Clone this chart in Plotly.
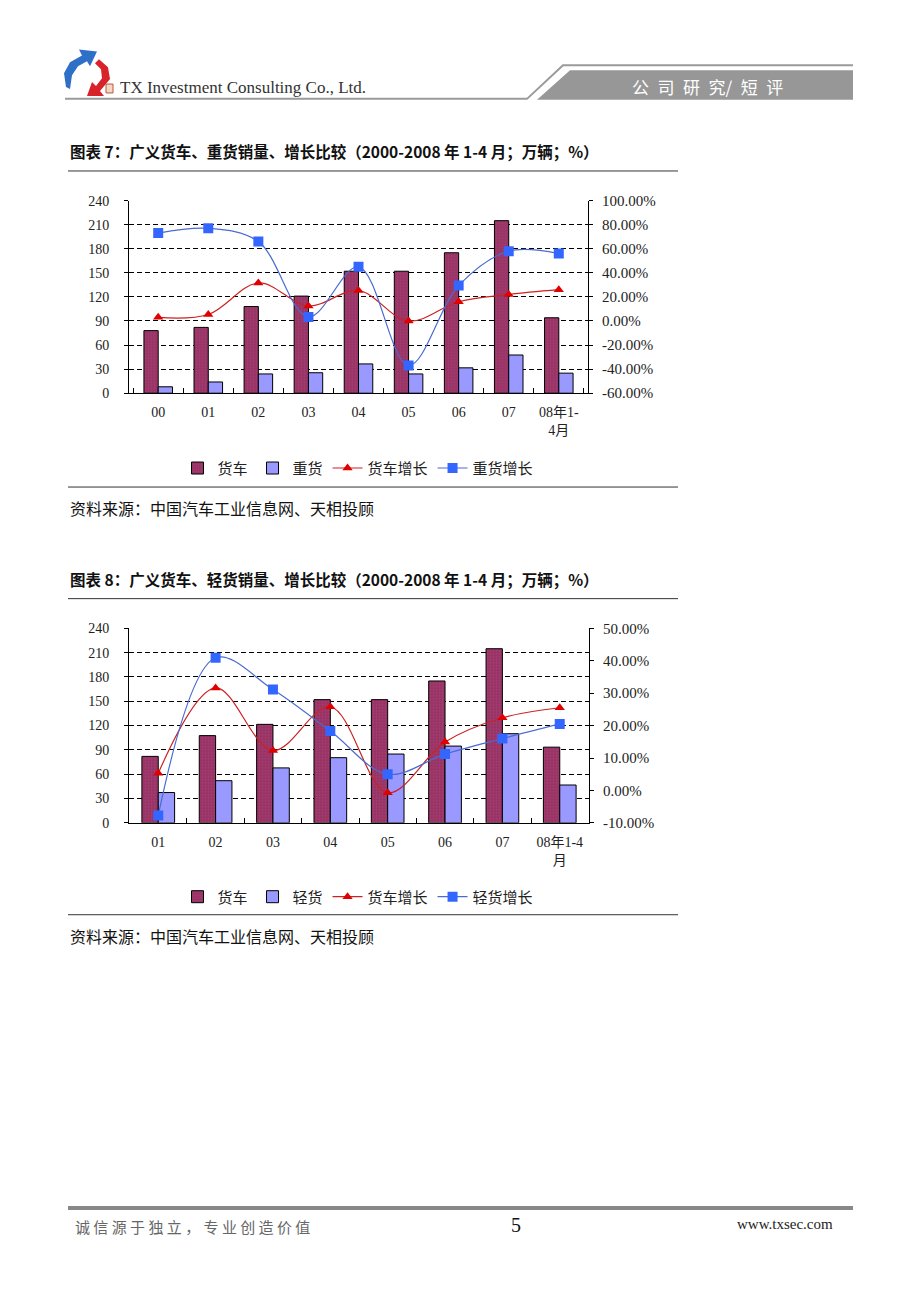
import plotly.graph_objects as go

# ---------------- data ----------------
cats1 = ['00', '01', '02', '03', '04', '05', '06', '07', '08年1-4月']
ticks1 = ['00', '01', '02', '03', '04', '05', '06', '07', '08年1-<br>4月']
truck1 = [78, 82, 108, 121, 152, 152, 175, 215, 94]
heavy1 = [8, 14, 24, 25.5, 36.5, 24, 31.6, 47.6, 25]
truck_growth1 = [3.0, 5.4, 31.6, 12.5, 25.3, -0.1, 16.0, 22.0, 26.0]
heavy_growth1 = [73.0, 77.0, 66.0, 3.4, 45.0, -37.0, 29.4, 58.0, 56.0]

cats2 = ['01', '02', '03', '04', '05', '06', '07', '08年1-4月']
ticks2 = ['01', '02', '03', '04', '05', '06', '07', '08年1-4<br>月']
truck2 = [82, 107.6, 121.5, 152, 152, 175, 214.8, 93.4]
light2 = [37.4, 52, 67.8, 80.4, 84.9, 94.7, 110, 46.7]
truck_growth2 = [5.3, 31.6, 12.3, 25.8, -0.7, 14.9, 22.4, 25.5]
light_growth2 = [-7.7, 40.9, 31.1, 18.3, 5.0, 11.2, 16.0, 20.5]

left_ticks = [0, 30, 60, 90, 120, 150, 180, 210, 240]
right_ticks1 = [-60, -40, -20, 0, 20, 40, 60, 80, 100]
right_ticks2 = [-10, 0, 10, 20, 30, 40, 50]

W, H = 920, 1302
def fx(x): return x / W
def fy(y): return 1 - y / H

SERIF = "Liberation Serif, 'Noto Sans CJK SC', serif"
CJK = "'Noto Sans CJK SC', sans-serif"

MAROON = '#993366'
LAV = '#9999FF'
RED = '#E00000'
BLUE = '#3366FF'

fig = go.Figure()

def add_chart(cats, truck, other, tg, og, other_name, og_name, xa, ya, ya2, leg):
    fig.add_trace(go.Bar(x=cats, y=truck, name='货车', xaxis=xa, yaxis=ya, legend=leg,
                         marker=dict(color=MAROON, line=dict(color='black', width=1),
                                     pattern=dict(shape='.', fgcolor='#B0527E', size=3, solidity=0.25))))
    fig.add_trace(go.Bar(x=cats, y=other, name=other_name, xaxis=xa, yaxis=ya, legend=leg,
                         marker=dict(color=LAV, line=dict(color='black', width=1))))
    fig.add_trace(go.Scatter(x=cats, y=tg, name='货车增长', xaxis=xa, yaxis=ya2, legend=leg,
                             mode='lines+markers',
                             line=dict(color='#CC2222', width=1.2, shape='spline', smoothing=1),
                             marker=dict(symbol='triangle-up', size=9, color=RED)))
    fig.add_trace(go.Scatter(x=cats, y=og, name=og_name, xaxis=xa, yaxis=ya2, legend=leg,
                             mode='lines+markers',
                             line=dict(color='#4A6BD0', width=1.2, shape='spline', smoothing=1),
                             marker=dict(symbol='square', size=10, color=BLUE)))

add_chart(cats1, truck1, heavy1, truck_growth1, heavy_growth1, '重货', '重货增长', 'x', 'y', 'y2', 'legend')
add_chart(cats2, truck2, light2, truck_growth2, light_growth2, '轻货', '轻货增长', 'x2', 'y3', 'y4', 'legend2')

tickfont = dict(family=SERIF, size=14, color='#222')
rtickfont = dict(family=SERIF, size=15, color='#222')

def xaxis_cfg(domain, anchor, cats, ticks):
    return dict(domain=domain, anchor=anchor, type='category', tickvals=cats, ticktext=ticks,
                showline=True, linecolor='black', linewidth=1, ticks='inside', ticklen=5,
                tickcolor='black', tickson='boundaries', showgrid=False, tickfont=tickfont,
                ticklabelstandoff=6, fixedrange=True)

def yleft_cfg(domain, anchor):
    return dict(domain=domain, anchor=anchor, range=[0, 240], tickvals=left_ticks,
                showline=True, linecolor='black', linewidth=1, ticks='outside', ticklen=4,
                tickcolor='black', showgrid=True, gridcolor='black', gridwidth=1,
                griddash='5px,3px', zeroline=False, tickfont=tickfont, ticklabelstandoff=12)

def yright_cfg(overlay, anchor, rng, tv):
    return dict(overlaying=overlay, anchor=anchor, side='right', range=rng, tickvals=tv,
                ticktext=[f'{v:.2f}%' for v in tv], showline=True, linecolor='black',
                linewidth=1, ticks='outside', ticklen=4, tickcolor='black', showgrid=False,
                zeroline=False, tickfont=rtickfont, ticklabelstandoff=6)

legend_common = dict(orientation='h', xanchor='center', yanchor='middle',
                     font=dict(family=SERIF, size=15, color='#222'),
                     bgcolor='rgba(0,0,0,0)', itemwidth=30, tracegroupgap=0)

fig.update_layout(
    width=W, height=H, margin=dict(l=0, r=0, t=0, b=0),
    paper_bgcolor='white', plot_bgcolor='white',
    barmode='group', bargap=0.43, bargroupgap=0,
    xaxis=xaxis_cfg([fx(129), fx(588)], 'y', cats1, ticks1),
    yaxis=yleft_cfg([fy(390), fy(195)], 'x'),
    yaxis2=yright_cfg('y', 'x', [-60, 100], right_ticks1),
    xaxis2=xaxis_cfg([fx(129), fx(589)], 'y3', cats2, ticks2),
    yaxis3=yleft_cfg([fy(825), fy(628)], 'x2'),
    yaxis4=yright_cfg('y3', 'x2', [-10, 50], right_ticks2),
    legend=dict(x=fx(358), y=fy(466), **legend_common),
    legend2=dict(x=fx(358), y=fy(900), **legend_common),
    showlegend=True,
)

# ---------------- page decorations ----------------
shapes = []
ann = []

def path(points, close=True):
    s = 'M ' + ' L '.join(f'{fx(x):.5f},{fy(y):.5f}' for x, y in points)
    return s + (' Z' if close else '')

def hline(x0, x1, y, color, width):
    shapes.append(dict(type='line', xref='paper', yref='paper', x0=fx(x0), x1=fx(x1),
                       y0=fy(y), y1=fy(y), line=dict(color=color, width=width)))

def text(x, y, s, size, color='#111', family=CJK, xanchor='left', bold=False):
    if bold:
        s = f'<b>{s}</b>'
    ann.append(dict(xref='paper', yref='paper', x=fx(x), y=fy(y), text=s, showarrow=False,
                    xanchor=xanchor, yanchor='middle', font=dict(size=size, color=color, family=family)))

# header: logo
blue_logo = [(66, 80), (64, 66), (70, 55), (82, 48), (79, 42), (97, 44), (90, 59), (87, 54),
             (78, 59), (72, 68), (70, 82)]
red_logo = [(99, 52), (108, 60), (110, 72), (100, 84), (104, 89), (87, 89), (92, 75),
            (96, 79), (102, 71), (101, 62), (95, 56)]
shapes.append(dict(type='path', xref='paper', yref='paper', path=path(blue_logo),
                   fillcolor='#2E6FC8', line=dict(width=0)))
shapes.append(dict(type='path', xref='paper', yref='paper', path=path(red_logo),
                   fillcolor='#D8232A', line=dict(width=0)))
shapes.append(dict(type='rect', xref='paper', yref='paper', x0=fx(106), x1=fx(113),
                   y0=fy(86), y1=fy(77), line=dict(color='#B55A3A', width=1), fillcolor='#F3D8C8'))
text(118, 80, 'TX Investment Consulting Co., Ltd.', 17, '#333', SERIF)

# header line and band
shapes.append(dict(type='path', xref='paper', yref='paper',
                   path=path([(65, 92), (527, 92), (563, 58), (853, 58)], close=False),
                   line=dict(color='#9a9a9a', width=2)))
shapes.append(dict(type='path', xref='paper', yref='paper',
                   path=path([(537, 93), (570, 63), (853, 63), (853, 93)]),
                   fillcolor='#979797', line=dict(width=0)))
sp = '\u2002'
text(630, 79, sp.join(['公', '司', '研', '究/']) + sp + sp.join(['短', '评']), 17, 'white', CJK)

# chart 1 frame text
text(68, 145, '图表 7：广义货车、重货销量、增长比较（2000-2008 年 1-4 月；万辆；%）', 15.5, '#111', CJK, bold=True)
hline(68, 678, 165, '#333', 1)
hline(68, 678, 485, '#333', 1)
text(68, 506, '资料来源：中国汽车工业信息网、天相投顾', 16, '#111', CJK)

# chart 2 frame text
text(68, 578, '图表 8：广义货车、轻货销量、增长比较（2000-2008 年 1-4 月；万辆；%）', 15.5, '#111', CJK, bold=True)
hline(68, 678, 598, '#333', 1)
hline(68, 678, 918, '#333', 1)
text(68, 940, '资料来源：中国汽车工业信息网、天相投顾', 16, '#111', CJK)

# footer
hline(68, 853, 1215, '#888', 4)
text(73, 1234, '诚 信 源 于 独 立 ， 专 业 创 造 价 值', 15, '#666', CJK)
text(516, 1232, '5', 20, '#111', SERIF, xanchor='center')
text(835, 1231, 'www.txsec.com', 15, '#222', SERIF, xanchor='right')

fig.update_layout(shapes=shapes, annotations=ann)

fig.write_html('out.html')
